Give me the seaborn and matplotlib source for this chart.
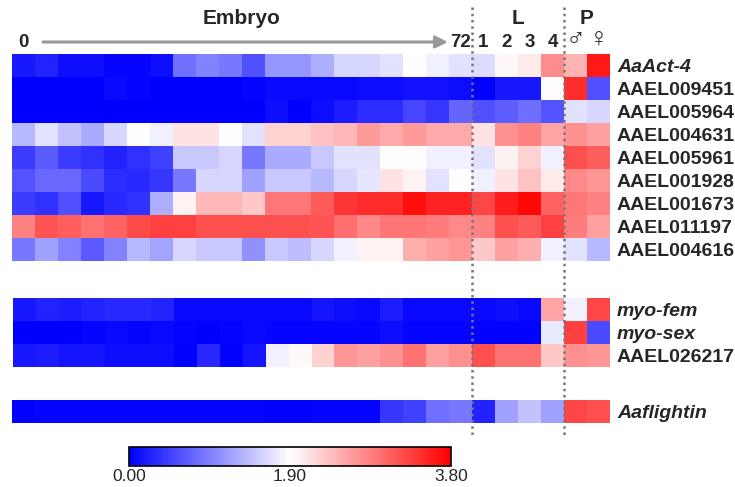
import numpy as np
import pandas as pd
import matplotlib
matplotlib.use("Agg")
import matplotlib.pyplot as plt
import matplotlib.transforms as mtransforms
from matplotlib.lines import Line2D
import seaborn as sns

# column labels: 20 embryo stages, 4 larval, 2 pupal
stages = ["0"] + [""] * 18 + ["72"] + ["1", "2", "3", "4"] + ["\u2642", "\u2640"]

# group 1 genes
genes_a = ["AaAct-4", "AAEL009451", "AAEL005964", "AAEL004631", "AAEL005961",
           "AAEL001928", "AAEL001673", "AAEL011197", "AAEL004616"]
aaact4 = [0.19, 0.26, 0.11, 0.11, 0.04, 0.04, 0.11, 0.82, 0.97, 0.90, 0.60, 1.12, 1.12, 1.30, 1.60, 1.60, 1.68, 1.90, 1.79, 1.68,
          1.64, 1.95, 2.05, 2.76, 2.46, 3.61]
aael009451 = [0.00, 0.00, 0.00, 0.00, 0.07, 0.04, 0.00, 0.00, 0.00, 0.00, 0.04, 0.07, 0.07, 0.07, 0.07, 0.10, 0.10, 0.14, 0.14, 0.10,
              0.02, 0.19, 0.19, 1.92, 3.46, 0.60]
aael005964 = [0.00, 0.00, 0.00, 0.00, 0.00, 0.00, 0.00, 0.00, 0.00, 0.00, 0.00, 0.11, 0.00, 0.10, 0.22, 0.34, 0.34, 0.52, 0.41, 0.75,
              0.60, 0.71, 0.82, 0.63, 1.68, 1.60]
aael004631 = [1.38, 1.68, 1.45, 1.27, 1.60, 1.90, 1.79, 2.12, 2.12, 1.90, 1.68, 2.24, 2.24, 2.35, 2.42, 2.65, 2.53, 2.65, 2.53, 2.53,
              2.12, 2.72, 2.83, 2.57, 2.72, 2.61]
aael005961 = [0.45, 0.67, 0.45, 0.37, 0.26, 0.37, 0.48, 1.49, 1.49, 1.60, 0.90, 1.27, 1.27, 1.49, 1.68, 1.68, 1.90, 1.90, 1.79, 1.79,
              1.68, 2.00, 2.24, 1.79, 3.20, 3.09]
aael001928 = [0.63, 0.78, 0.78, 0.56, 0.34, 0.30, 0.41, 0.90, 1.60, 1.60, 1.19, 1.49, 1.49, 1.38, 1.60, 1.71, 2.12, 2.00, 1.68, 1.90,
              1.79, 2.12, 2.35, 2.05, 2.79, 2.68]
aael001673 = [0.45, 0.37, 0.60, 0.19, 0.30, 0.37, 1.30, 2.00, 2.42, 2.42, 2.31, 2.91, 2.91, 3.13, 3.39, 3.46, 3.46, 3.69, 3.54, 3.54,
              3.28, 3.58, 3.73, 3.06, 2.91, 2.83]
aael011197 = [2.83, 3.17, 3.09, 2.94, 3.06, 3.24, 3.32, 3.32, 3.20, 3.20, 3.20, 3.20, 3.20, 3.17, 2.98, 2.79, 2.91, 2.91, 2.87, 2.79,
              2.83, 3.20, 3.13, 3.32, 2.87, 2.61]
aael004616 = [0.90, 1.19, 0.97, 0.67, 0.97, 1.38, 1.23, 1.60, 1.49, 1.49, 1.08, 1.49, 1.42, 1.60, 1.79, 2.00, 2.00, 2.50, 2.61, 2.68,
              2.31, 2.61, 2.50, 1.79, 1.68, 1.38]

# group 2 genes
genes_b = ["myo-fem", "myo-sex", "AAEL026217"]
myo_fem = [0.19, 0.26, 0.22, 0.26, 0.30, 0.30, 0.26, 0.07, 0.07, 0.07, 0.07, 0.07, 0.07, 0.15, 0.11, 0.07, 0.22, 0.07, 0.07, 0.07,
           0.07, 0.11, 0.07, 2.57, 1.79, 3.28]
myo_sex = [0.00, 0.00, 0.00, 0.04, 0.07, 0.04, 0.07, 0.04, 0.00, 0.04, 0.07, 0.04, 0.04, 0.04, 0.04, 0.04, 0.10, 0.04, 0.04, 0.04,
           0.02, 0.02, 0.02, 1.75, 3.32, 0.56]
aael026217 = [0.19, 0.22, 0.15, 0.15, 0.11, 0.11, 0.11, 0.02, 0.30, 0.02, 0.15, 1.79, 1.95, 2.24, 2.68, 2.61, 2.72, 2.94, 2.61, 2.72,
              3.20, 2.94, 2.94, 2.31, 2.72, 2.68]

# group 3
genes_c = ["Aaflightin"]
aaflightin = [0.02, 0.04, 0.04, 0.04, 0.04, 0.04, 0.04, 0.04, 0.04, 0.04, 0.04, 0.02, 0.02, 0.04, 0.04, 0.04, 0.41, 0.48, 0.82, 0.90,
              0.26, 1.19, 1.45, 1.19, 3.28, 3.20]

italic_genes = ["AaAct-4", "myo-fem", "myo-sex", "Aaflightin"]

df_a = pd.DataFrame([aaact4, aael009451, aael005964, aael004631, aael005961,
                     aael001928, aael001673, aael011197, aael004616], index=genes_a)
df_b = pd.DataFrame([myo_fem, myo_sex, aael026217], index=genes_b)
df_c = pd.DataFrame([aaflightin], index=genes_c)

sns.set_style("white")
plt.rcParams["font.family"] = ["Liberation Sans", "DejaVu Sans"]

W, H = 735, 487
fig = plt.figure(figsize=(W / 100, H / 100), dpi=100)


def px_axes(x0, y0, x1, y1):
    return fig.add_axes([x0 / W, 1 - y1 / H, (x1 - x0) / W, (y1 - y0) / H])


ax1 = px_axes(12, 54, 610, 261)
ax2 = px_axes(13, 298, 610, 367)
ax3 = px_axes(12, 400, 610, 423)

for ax, df in [(ax1, df_a), (ax2, df_b), (ax3, df_c)]:
    sns.heatmap(df, ax=ax, cmap="bwr", vmin=0, vmax=3.8, cbar=False,
                xticklabels=False, yticklabels=True)
    ax.yaxis.tick_right()
    ax.tick_params(axis="y", length=0, pad=5)
    for lab in ax.get_yticklabels():
        lab.set_rotation(0)
        lab.set_fontsize(14)
        lab.set_fontweight("bold")
        lab.set_ha("left")
        if lab.get_text() in italic_genes:
            lab.set_fontstyle("italic")

# top stage labels
ax1.xaxis.tick_top()
ax1.set_xticks(np.arange(len(stages)) + 0.5)
ax1.set_xticklabels(stages, fontsize=13.5, fontweight="bold")
ax1.tick_params(axis="x", length=0, pad=2)
for lab in ax1.get_xticklabels():
    if lab.get_text() in ["\u2642", "\u2640"]:
        lab.set_fontweight("normal")
        lab.set_fontsize(19)

trans = mtransforms.blended_transform_factory(ax1.transData, fig.transFigure)

# group titles
ax1.text(10, 1 - 18 / H, "Embryo", transform=trans, ha="center", va="center",
         fontsize=15, fontweight="bold")
ax1.text(22, 1 - 18 / H, "L", transform=trans, ha="center", va="center",
         fontsize=15, fontweight="bold")
ax1.text(25, 1 - 18 / H, "P", transform=trans, ha="center", va="center",
         fontsize=15, fontweight="bold")

# time arrow over the embryo stages
ax1.annotate("", xy=(18.95, 1 - 42 / H), xytext=(1.35, 1 - 42 / H),
             xycoords=trans, textcoords=trans, annotation_clip=False,
             arrowprops=dict(arrowstyle="-|>", color="#999999", lw=2.2,
                             mutation_scale=18, shrinkA=0, shrinkB=0))

# dotted separators between embryo / larva / pupa
for xb in [20, 24]:
    fig.add_artist(Line2D([xb, xb], [1 - 7 / H, 1 - 437 / H], transform=trans,
                          color="#777777", linestyle=(0, (1, 1.5)), lw=1.8))

# colour bar
cax = px_axes(129, 447, 451, 466)
cb = fig.colorbar(ax1.collections[0], cax=cax, orientation="horizontal",
                  ticks=[0, 1.9, 3.8], format="%.2f")
cb.outline.set_edgecolor("black")
cb.outline.set_linewidth(1.2)
cax.tick_params(length=0, labelsize=12.5, pad=2)

fig.savefig("out.png", dpi=100)
